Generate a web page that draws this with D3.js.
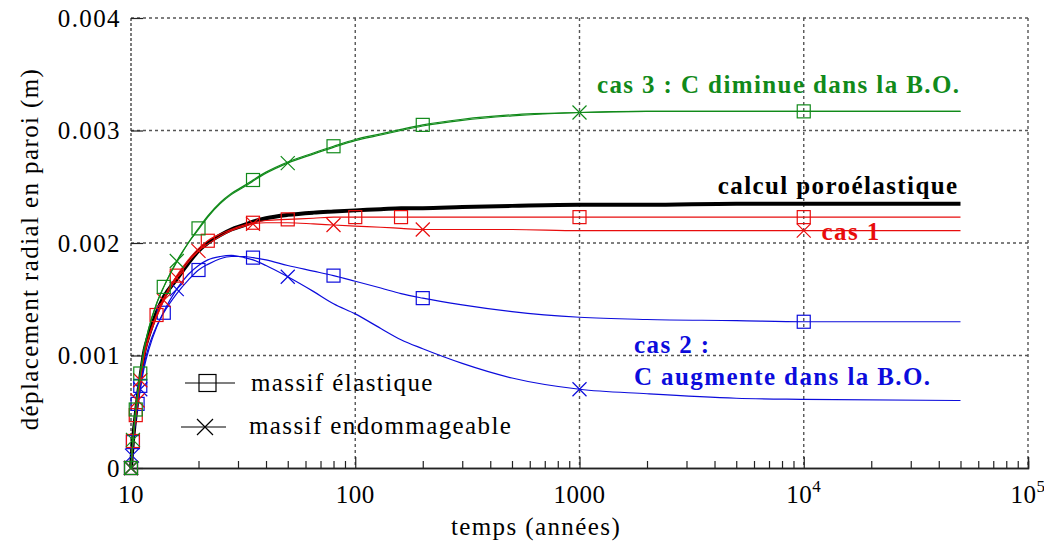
<!DOCTYPE html>
<html>
<head>
<meta charset="utf-8">
<script src="https://cdn.jsdelivr.net/npm/d3@7"></script>
<style>
  body { margin: 0; background: #fff; }
  svg text { font-family: "Liberation Serif", Tinos, "Times New Roman", Times, "DejaVu Serif", serif; letter-spacing: 1.4px; }
</style>
</head>
<body>
<div id="chart"></div>
<script>
// temps (années) - noeuds de calcul
var temps = [10, 10.1, 10.2, 10.35, 10.5, 10.7, 11, 11.5, 12, 13,
             14, 16, 18, 20, 22, 25, 28, 32, 35, 40,
             50, 65, 80, 100, 130, 160, 200, 300, 500, 1000,
             2000, 5000, 10000, 50000]

// deplacement radial en paroi (m)
var poro = [0, 0.00013, 0.00024, 0.00037, 0.00048, 0.00062, 0.00080, 0.00105, 0.00118, 0.00138,
            0.00152, 0.00168, 0.00182, 0.00193, 0.00200, 0.00207, 0.00212, 0.00216, 0.00219, 0.00222,
            0.00225, 0.00227, 0.00228, 0.00229, 0.00230, 0.00231, 0.00231, 0.00232, 0.00233, 0.00234,
            0.00234, 0.00235, 0.00235, 0.00235]
var cas1Elas = [0, 0.00012, 0.00024, 0.00036, 0.00047, 0.00061, 0.00079, 0.00103, 0.00117, 0.00136,
                0.00151, 0.00171, 0.00185, 0.00195, 0.00202, 0.00208, 0.00212, 0.00216, 0.00218, 0.00220,
                0.00221, 0.00222, 0.00223, 0.00223, 0.00223, 0.00223, 0.00223, 0.00223, 0.00223, 0.00223,
                0.00223, 0.00223, 0.00223, 0.00223]
var cas1Endo = [0, 0.00012, 0.00024, 0.00036, 0.00047, 0.00060, 0.00078, 0.00101, 0.00115, 0.00134,
                0.00149, 0.00169, 0.00183, 0.00193, 0.00199, 0.00206, 0.00211, 0.00215, 0.00217, 0.00218,
                0.00218, 0.00217, 0.00216, 0.00215, 0.00214, 0.00213, 0.00212, 0.00212, 0.00212, 0.00211,
                0.00211, 0.00211, 0.00211, 0.00211]
var cas2Elas = [0, 0.00012, 0.00023, 0.00035, 0.00045, 0.00057, 0.00073, 0.00094, 0.00108, 0.00126,
                0.00138, 0.00155, 0.00167, 0.00176, 0.00181, 0.00186, 0.00188, 0.00188, 0.00187, 0.00185,
                0.00180, 0.00175, 0.00171, 0.00166, 0.00160, 0.00155, 0.00151, 0.00145, 0.00139, 0.00134,
                0.00132, 0.00131, 0.00130, 0.00130]
var cas2Endo = [0, 0.00011, 0.00021, 0.00033, 0.00043, 0.00055, 0.00070, 0.00091, 0.00105, 0.00125,
                0.00139, 0.00159, 0.00172, 0.00180, 0.00185, 0.00188, 0.00189, 0.00187, 0.00185, 0.00180,
                0.00170, 0.00157, 0.00146, 0.00137, 0.00124, 0.00114, 0.00106, 0.00093, 0.00080, 0.00070,
                0.00066, 0.00062, 0.00061, 0.00060]
var cas3Elas = [0, 0.00013, 0.00025, 0.00039, 0.00052, 0.00066, 0.00084, 0.00108, 0.00124, 0.00146,
                0.00161, 0.00183, 0.00200, 0.00213, 0.00224, 0.00236, 0.00244, 0.00251, 0.00256, 0.00263,
                0.00272, 0.00280, 0.00286, 0.00292, 0.00297, 0.00301, 0.00305, 0.00310, 0.00314, 0.00316,
                0.00317, 0.00317, 0.00317, 0.00317]
var cas3Endo = [0, 0.00013, 0.00025, 0.00039, 0.00052, 0.00066, 0.00084, 0.00108, 0.00124, 0.00146,
                0.00161, 0.00184, 0.00200, 0.00212, 0.00223, 0.00235, 0.00243, 0.00250, 0.00255, 0.00262,
                0.00271, 0.00279, 0.00285, 0.00291, 0.00296, 0.00300, 0.00304, 0.00309, 0.00313, 0.00316,
                0.00317, 0.00317, 0.00317, 0.00317]

// temps ou un symbole est trace
var mCas1Elas = [10, 10.2, 10.5, 13, 16, 22, 35, 50, 100, 160, 1000, 10000]
var mCas1Endo = [10, 10.7, 11, 14, 16, 20, 35, 80, 200, 10000]
var mCas2Elas = [10, 10.2, 10.7, 11, 14, 20, 35, 80, 200, 10000]
var mCas2Endo = [10, 10.1, 11, 16, 50, 1000]
var mCas3Elas = [10, 10.5, 11, 14, 20, 35, 80, 200, 10000]
var mCas3Endo = [10, 10.2, 16, 50, 1000]

var xTicks = [10, 100, 1000, 10000, 100000]
var yTicks = [0, 0.001, 0.002, 0.003, 0.004]

var green = "#118a1a", red = "#e80c0c", blue = "#0c0cdc"

var series = [
    { vals: cas2Elas, marks: mCas2Elas, sym: "sq", color: blue },
    { vals: cas2Endo, marks: mCas2Endo, sym: "x", color: blue },
    { vals: cas1Elas, marks: mCas1Elas, sym: "sq", color: red },
    { vals: cas1Endo, marks: mCas1Endo, sym: "x", color: red },
    { vals: cas3Elas, marks: mCas3Elas, sym: "sq", color: green },
    { vals: cas3Endo, marks: mCas3Endo, sym: "x", color: green }
]

var margin = { left: 131, right: 16, top: 18, bottom: 80 }
var width = 1044 - margin.left - margin.right
var height = 548 - margin.top - margin.bottom

var svg = d3.select("#chart").append("svg")
    .attr("width", 1044)
    .attr("height", 548)
    .attr("font-family", "Liberation Serif, Tinos, Times New Roman, serif")
var g = svg.append("g")
    .attr("transform", "translate(" + margin.left + "," + margin.top + ")")

var x = d3.scaleLog().domain([10, 100000]).range([0, width])
var y = d3.scaleLinear().domain([0, 0.004]).range([height, 0])

// grille pointillee
g.selectAll(".vgrid")
    .data(xTicks.slice(1))
    .join("line")
        .attr("x1", d => x(d)).attr("x2", d => x(d))
        .attr("y1", 0).attr("y2", height)
        .attr("stroke", "#555").attr("stroke-width", 1.4)
        .attr("stroke-dasharray", "3,3")
g.selectAll(".hgrid")
    .data(yTicks.slice(1))
    .join("line")
        .attr("x1", 0).attr("x2", width)
        .attr("y1", d => y(d)).attr("y2", d => y(d))
        .attr("stroke", "#555").attr("stroke-width", 1.4)
        .attr("stroke-dasharray", "3,3")
g.append("line")
    .attr("x1", 0).attr("x2", 0).attr("y1", 0).attr("y2", height)
    .attr("stroke", "#444").attr("stroke-width", 1.4)
    .attr("stroke-dasharray", "3,2")

// axe x : graduations vers l'interieur
var minor = []
xTicks.slice(0, -1).forEach(function(d) {
    for (var k = 2; k < 10; k++) minor.push(d * k)
})
var xAxis = g.append("g")
    .attr("transform", "translate(0," + height + ")")
    .call(d3.axisBottom(x).tickValues(xTicks).tickSize(-11).tickFormat(""))
xAxis.append("g").call(d3.axisBottom(x).tickValues(minor).tickSize(-7).tickFormat(""))
xAxis.selectAll("path.domain").attr("stroke", "#222").attr("stroke-width", 1.4)
xAxis.selectAll(".tick line").attr("stroke", "#222").attr("stroke-width", 1.2)

var xLab = g.selectAll(".xlab")
    .data(xTicks)
    .join("text")
        .attr("x", d => x(d))
        .attr("y", height + 35)
        .attr("text-anchor", "middle")
        .attr("font-size", "25px")
        .style("letter-spacing", "0.5px")
xLab.each(function(d) {
    var t = d3.select(this)
    if (d < 10000) {
        t.text(d)
    } else {
        t.append("tspan").text("10")
        t.append("tspan").attr("dy", -11).attr("font-size", "17px").text(Math.round(Math.log10(d)))
    }
})

// axe y
var yAxis = g.append("g")
    .call(d3.axisLeft(y).tickValues(yTicks).tickSize(-12).tickFormat(""))
yAxis.select("path.domain").remove()
yAxis.selectAll(".tick line").attr("stroke", "#222").attr("stroke-width", 1.2)
g.selectAll(".ylab")
    .data(yTicks)
    .join("text")
        .attr("x", -10)
        .attr("y", d => y(d))
        .attr("dy", "0.35em")
        .attr("text-anchor", "end")
        .attr("font-size", "25px")
        .text(d => d === 0 ? "0" : d3.format(".3f")(d))

// titres des axes
g.append("text")
    .attr("x", 405)
    .attr("y", height + 67)
    .attr("text-anchor", "middle")
    .attr("font-size", "25px")
    .text("temps (années)")
g.append("text")
    .attr("transform", "translate(-93," + (height / 2 + 6) + ") rotate(-90)")
    .attr("text-anchor", "middle")
    .attr("font-size", "25px")
    .text("déplacement radial en paroi (m)")

// courbes
var line = d3.line()
    .x(d => x(d[0]))
    .y(d => y(d[1]))
    .curve(d3.curveMonotoneX)

g.append("path")
    .datum(d3.zip(temps, poro))
    .attr("d", line)
    .attr("fill", "none")
    .attr("stroke", "#000")
    .attr("stroke-width", 4)

series.forEach(function(s) {
    var pts = d3.zip(temps, s.vals)
    g.append("path")
        .datum(pts)
        .attr("d", line)
        .attr("fill", "none")
        .attr("stroke", s.color)
        .attr("stroke-width", 1.2)

    var mk = g.selectAll(null)
        .data(pts.filter(p => s.marks.indexOf(p[0]) >= 0))
        .join("g")
            .attr("transform", p => "translate(" + x(p[0]) + "," + y(p[1]) + ")")
    if (s.sym === "sq") {
        mk.append("rect")
            .attr("x", -6.5).attr("y", -6.5)
            .attr("width", 13).attr("height", 13)
            .attr("fill", "none")
            .attr("stroke", s.color).attr("stroke-width", 1.2)
    } else {
        mk.append("path")
            .attr("d", "M-7,-7L7,7M-7,7L7,-7")
            .attr("fill", "none")
            .attr("stroke", s.color).attr("stroke-width", 1.2)
    }
})

// annotations
g.append("text")
    .attr("x", x(50000)).attr("y", y(0.003335))
    .attr("text-anchor", "end")
    .attr("font-size", "25px").attr("font-weight", "bold")
    .attr("fill", green)
    .text("cas 3 : C diminue dans la B.O.")
g.append("text")
    .attr("x", x(50000) - 2).attr("y", y(0.002435))
    .attr("text-anchor", "end")
    .attr("font-size", "25px").attr("font-weight", "bold")
    .attr("fill", "#000")
    .text("calcul poroélastique")
g.append("text")
    .attr("x", x(12000)).attr("y", y(0.002025))
    .attr("font-size", "25px").attr("font-weight", "bold")
    .attr("fill", red)
    .text("cas 1")
g.append("text")
    .attr("x", x(1750)).attr("y", y(0.00102))
    .attr("font-size", "25px").attr("font-weight", "bold")
    .attr("fill", blue)
    .text("cas 2 :")
g.append("text")
    .attr("x", x(1750)).attr("y", y(0.00074))
    .attr("font-size", "25px").attr("font-weight", "bold")
    .attr("fill", blue)
    .text("C augmente dans la B.O.")

// legende
var legend = g.append("g").attr("transform", "translate(" + (185 - margin.left) + "," + (383 - margin.top) + ")")
legend.append("line").attr("x1", 0).attr("x2", 50).attr("y1", 0).attr("y2", 0)
    .attr("stroke", "#000").attr("stroke-width", 1.2)
legend.append("rect").attr("x", 14).attr("y", -8.5).attr("width", 17).attr("height", 17)
    .attr("fill", "none").attr("stroke", "#000").attr("stroke-width", 1.2)
legend.append("text").attr("x", 66).attr("y", 8).attr("font-size", "25px")
    .text("massif élastique")
legend.append("line").attr("x1", -4).attr("x2", 41).attr("y1", 44).attr("y2", 44)
    .attr("stroke", "#000").attr("stroke-width", 1.2)
legend.append("path").attr("d", "M12,36L28,52M12,52L28,36")
    .attr("fill", "none").attr("stroke", "#000").attr("stroke-width", 1.2)
legend.append("text").attr("x", 64).attr("y", 51).attr("font-size", "25px")
    .text("massif endommageable")
</script>
</body>
</html>
